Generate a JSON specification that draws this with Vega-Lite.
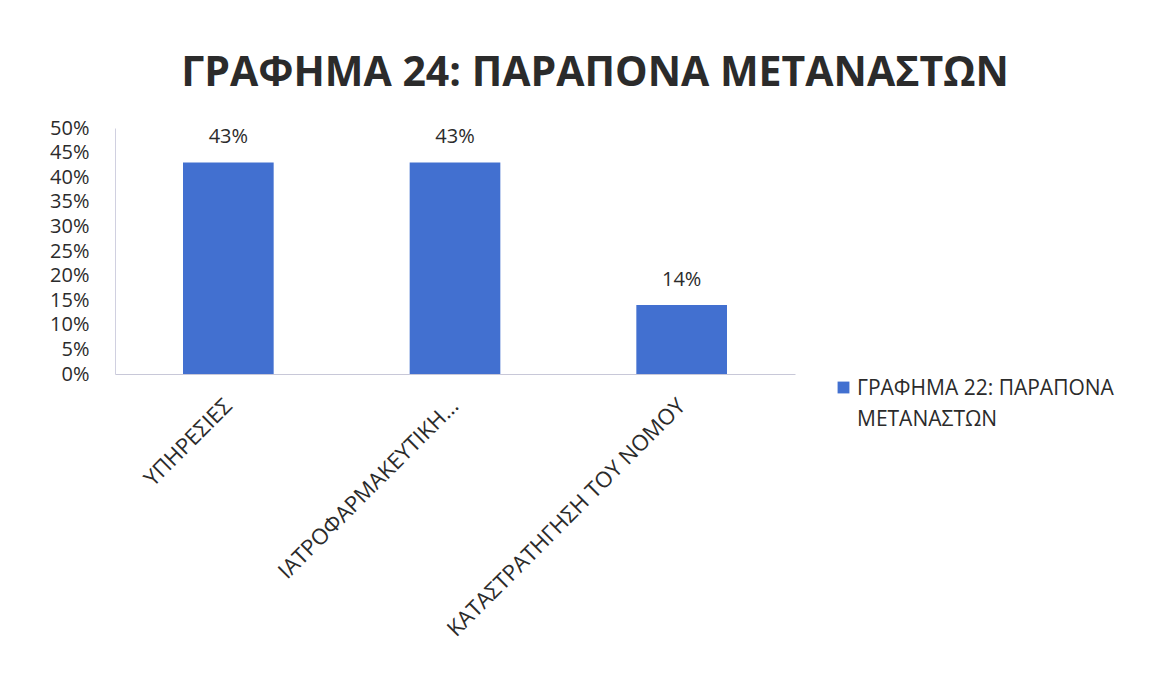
{
  "$schema": "https://vega.github.io/schema/vega-lite/v6.json",
  "autosize": "none",
  "width": 680,
  "height": 246,
  "padding": {"left": 115, "top": 128, "right": 365, "bottom": 311},
  "background": "#ffffff",
  "title": {
    "text": "ΓΡΑΦΗΜΑ 24: ΠΑΡΑΠΟΝΑ ΜΕΤΑΝΑΣΤΩΝ",
    "font": "Open Sans",
    "fontSize": 41,
    "fontWeight": "bold",
    "color": "#2b2b2b",
    "anchor": "middle",
    "dx": 140,
    "offset": 23
  },
  "config": {
    "view": {"stroke": null},
    "font": "Open Sans"
  },
  "data": {
    "values": [
      {"category": "ΥΠΗΡΕΣΙΕΣ", "value": 0.43, "series": "ΓΡΑΦΗΜΑ 22: ΠΑΡΑΠΟΝΑ ΜΕΤΑΝΑΣΤΩΝ"},
      {"category": "ΙΑΤΡΟΦΑΡΜΑΚΕΥΤΙΚΗ...", "value": 0.43, "series": "ΓΡΑΦΗΜΑ 22: ΠΑΡΑΠΟΝΑ ΜΕΤΑΝΑΣΤΩΝ"},
      {"category": "ΚΑΤΑΣΤΡΑΤΗΓΗΣΗ ΤΟΥ ΝΟΜΟΥ", "value": 0.14, "series": "ΓΡΑΦΗΜΑ 22: ΠΑΡΑΠΟΝΑ ΜΕΤΑΝΑΣΤΩΝ"}
    ]
  },
  "encoding": {
    "x": {
      "field": "category",
      "type": "nominal",
      "sort": null,
      "scale": {"paddingInner": 0.6, "paddingOuter": 0.3},
      "axis": {
        "title": null,
        "labelAngle": -45,
        "labelAlign": "right",
        "labelBaseline": "middle",
        "labelFontSize": 22,
        "labelColor": "#2b2b2b",
        "labelPadding": 28,
        "labelLimit": 500,
        "ticks": false,
        "domainColor": "#c8c8d8",
        "domainWidth": 1
      }
    },
    "y": {
      "field": "value",
      "type": "quantitative",
      "scale": {"domain": [0, 0.5]},
      "axis": {
        "title": null,
        "values": [0, 0.05, 0.1, 0.15, 0.2, 0.25, 0.3, 0.35, 0.4, 0.45, 0.5],
        "format": ".0%",
        "labelFontSize": 20,
        "labelColor": "#2b2b2b",
        "labelPadding": 26,
        "ticks": false,
        "grid": false,
        "domainColor": "#d0d0e0",
        "domainWidth": 1
      }
    }
  },
  "layer": [
    {
      "mark": {"type": "bar", "color": "#4270d0"},
      "encoding": {
        "color": {
          "field": "series",
          "type": "nominal",
          "scale": {"range": ["#4270d0"]},
          "legend": {
            "title": null,
            "orient": "none",
            "legendX": 718,
            "legendY": 249,
            "symbolType": "square",
            "symbolSize": 140,
            "labelFontSize": 21,
            "labelColor": "#2b2b2b",
            "labelLimit": 500,
            "labelExpr": "['ΓΡΑΦΗΜΑ 22: ΠΑΡΑΠΟΝΑ', 'ΜΕΤΑΝΑΣΤΩΝ']",
            "labelBaseline": "alphabetic",
            "labelOffset": 3,
            "encode": {
              "labels": {
                "update": {
                  "lineHeight": {"value": 31},
                  "dy": {"value": 7}
                }
              }
            }
          }
        }
      }
    },
    {
      "mark": {"type": "text", "baseline": "bottom", "dy": -15, "fontSize": 20, "color": "#2b2b2b"},
      "encoding": {
        "text": {"field": "value", "type": "quantitative", "format": ".0%"}
      }
    }
  ]
}
